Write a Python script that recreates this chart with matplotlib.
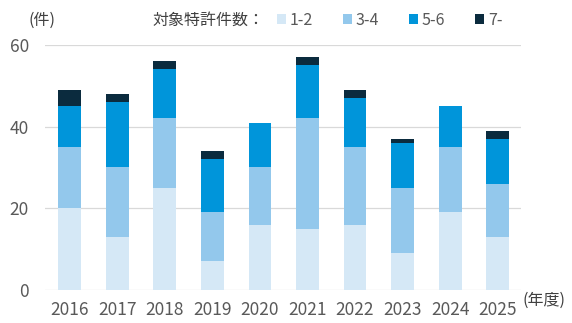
import matplotlib
matplotlib.use("Agg")
import matplotlib.pyplot as plt
import numpy as np

plt.rcParams['font.family'] = ['Noto Sans CJK JP', 'DejaVu Sans']

years = ['2016', '2017', '2018', '2019', '2020', '2021', '2022', '2023', '2024', '2025']
s12 = [20, 13, 25, 7, 16, 15, 16, 9, 19, 13]
s34 = [15, 17, 17, 12, 14, 27, 19, 16, 16, 13]
s56 = [10, 16, 12, 13, 11, 13, 12, 11, 10, 11]
s7 = [4, 2, 2, 2, 0, 2, 2, 1, 0, 2]
labels = ['1-2', '3-4', '5-6', '7-']
colors = ['#d5e8f6', '#93c8ec', '#0095da', '#0b2b3e']

fig = plt.figure(figsize=(5.72, 3.23), dpi=100)
ax = fig.add_axes([0.0787, 0.102, 0.833, 0.759])

x = np.arange(len(years))
bottom = np.zeros(len(years))
handles = []
for vals, lab, c in zip([s12, s34, s56, s7], labels, colors):
    b = ax.bar(x, vals, bottom=bottom, width=0.48, color=c, label=lab, zorder=3)
    handles.append(b)
    bottom += np.array(vals)

ax.set_ylim(0, 60)
ax.set_xlim(-0.52, 9.5)
ax.set_yticks([0, 20, 40, 60])
ax.set_xticks(x)
ax.set_xticklabels(years)
ax.yaxis.grid(True, color='#d9d9d9', linewidth=0.9, zorder=0)
for s in ax.spines.values():
    s.set_visible(False)
ax.tick_params(axis='both', length=0, colors='#595959', labelsize=12.5)
ax.tick_params(axis='y', pad=11.5)
ax.tick_params(axis='x', pad=8)

fig.text(0.049, 0.938, '(件)', fontsize=11.5, color='#404040', va='center')
fig.text(0.266, 0.938, '対象特許件数：', fontsize=11.5, color='#404040', va='center')
fig.text(0.914, 0.071, '(年度)', fontsize=11.5, color='#404040', va='center')

leg = fig.legend(handles=handles, labels=labels, ncol=4, loc='center left',
                 bbox_to_anchor=(0.484, 0.938), frameon=False, fontsize=11.5,
                 handlelength=0.6, handleheight=0.6, handletextpad=0.22,
                 columnspacing=1.85, borderaxespad=0, borderpad=0)
for t in leg.get_texts():
    t.set_color('#595959')

fig.savefig('out.png', dpi=100)
